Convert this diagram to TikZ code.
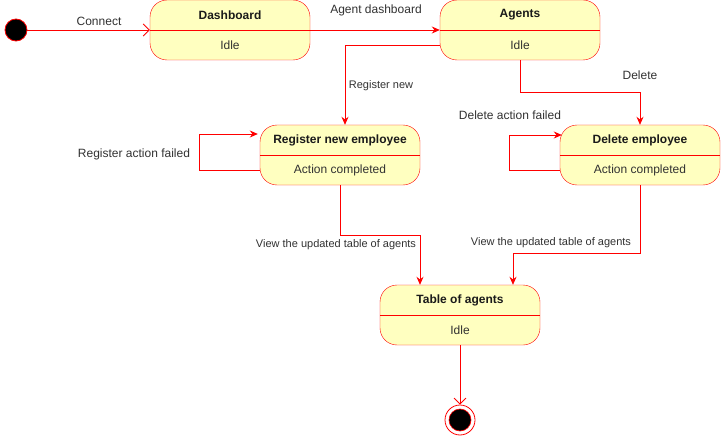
\documentclass[tikz,border=0pt]{standalone}
\usepackage{fontspec}
\setmainfont{Liberation Sans}
\usetikzlibrary{arrows.meta,calc}
\definecolor{statefill}{HTML}{FFFFC0}
\definecolor{txt}{HTML}{1A1A1A}
\tikzset{
  statebox/.style={draw=red, fill=statefill, rounded corners=17pt, minimum width=160pt, minimum height=60pt, inner sep=0pt},
  titletext/.style={font=\bfseries\fontsize{12}{14}\selectfont, text=txt},
  bodytext/.style={font=\fontsize{12}{14}\selectfont, text=txt!90},
  lbl/.style={font=\fontsize{12}{14}\selectfont, text=txt!90, inner sep=1pt},
  slbl/.style={font=\fontsize{11}{13}\selectfont, text=txt!90, inner sep=1pt},
  flow/.style={draw=red, line width=0.8pt, -{Stealth[length=8pt,width=7pt]}},
  openflow/.style={draw=red, line width=0.8pt, -{Straight Barb[length=6pt,width=12pt]}},
}
\newcommand\umlstate[5]{%
  \node[statebox] (#1) at (#2,#3) {};
  \draw[red, line width=0.8pt] (#1.west) -- (#1.east);
  \node[titletext] (#1-t) at ([yshift=15pt]#1.center) {#4};
  \node[bodytext] (#1-b) at ([yshift=-15pt]#1.center) {#5};
}
\begin{document}
\begin{tikzpicture}[x=1pt,y=-1pt]
\useasboundingbox (0,0) rectangle (721,436);
% states
\node[circle, draw=red, fill=black, minimum size=22pt, inner sep=0pt, line width=0.8pt] (init) at (16,30) {};
\umlstate{dash}{230}{30}{Dashboard}{Idle}
\umlstate{agents}{520}{30}{Agents}{Idle}
\umlstate{reg}{340}{155}{Register new employee}{Action completed}
\umlstate{del}{640}{155}{Delete employee}{Action completed}
\umlstate{table}{460}{315}{Table of agents}{Idle}
\node[circle, draw=red, fill=white, minimum size=30pt, inner sep=0pt, line width=0.8pt] (final) at (460,420) {};
\node[circle, draw=red, fill=black, minimum size=22pt, inner sep=0pt, line width=0.6pt] (finalin) at (final.center) {};
% connectors
\draw[openflow] (init) -- (dash.west);
\node[lbl] (l1) at (99,21) {Connect};
\draw[flow] (dash.east) -- (agents.west);
\node[lbl] (l2) at (376,10) {Agent dashboard};
\draw[flow] ([yshift=-15pt]agents.west) -| ([xshift=5pt]reg.north);
\node[slbl] (l3) at (381,86) {Register new};
\draw[flow] (agents.south) -- ++(0,32) -| (del.north);
\node[lbl] (l4) at (640,75) {Delete};
\draw[flow] ([yshift=-15pt]reg.west) -- ++(-60,0) |- ([yshift=21pt,xshift=-2pt]reg.west);
\node[lbl] (l5) at (134,154) {Register action failed};
\draw[flow] ([yshift=-15pt]del.west) -- ++(-50,0) |- ([yshift=20pt,xshift=2pt]del.west);
\node[lbl] (l6) at (510,115) {Delete action failed};
\draw[flow] (reg.south) -- ++(0,50) -| ([xshift=-40pt]table.north);
\node[slbl] (l7) at (336,245) {View the updated table of agents};
\draw[flow] (del.south) -- ++(0,68) -| ([xshift=53pt]table.north);
\node[slbl] (l8) at (551,243) {View the updated table of agents};
\draw[openflow] (table.south) -- (final.north);
\end{tikzpicture}
\end{document}
